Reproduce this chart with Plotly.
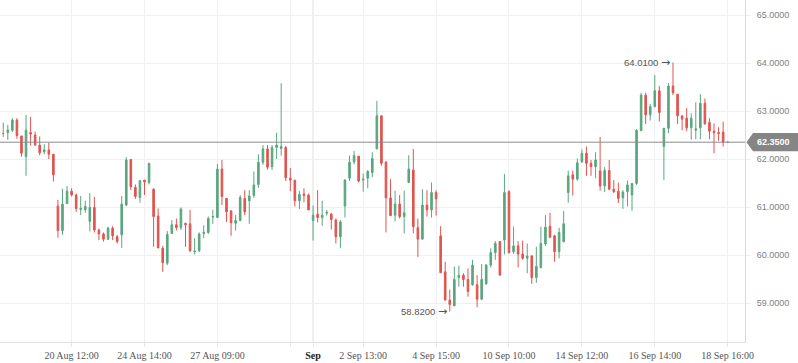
import plotly.graph_objects as go

# ---- data (index-based candles, weekend gaps removed) ----
opens = [62.88,62.53,62.55,62.60,62.81,62.48,62.05,62.55,62.50,62.29,62.15,62.19,62.10,61.02,60.51,61.07,61.33,61.25,60.95,60.94,
         60.70,60.99,60.52,60.44,60.33,60.56,60.38,60.42,61.04,61.99,61.41,61.20,61.56,61.51,61.37,60.81,60.14,59.83,60.45,60.63,
         60.57,60.66,60.65,60.07,60.09,60.45,60.47,60.79,60.78,61.79,61.18,60.92,60.66,60.72,61.18,61.13,61.24,61.47,61.93,62.21,
         61.84,62.24,62.22,62.24,61.60,61.56,61.13,61.27,61.25,60.72,60.85,60.78,60.87,60.85,60.73,60.38,61.02,61.60,61.94,62.06,
         61.56,61.60,61.72,62.21,62.90,61.94,61.19,60.83,61.06,60.80,61.51,61.77,60.57,60.33,61.04,60.94,61.30,60.40,59.65,59.06,
         58.94,59.53,59.58,59.49,59.38,59.38,59.08,59.40,59.79,60.05,60.28,60.31,61.32,60.07,60.19,60.02,59.93,59.98,59.53,59.74,
         60.23,60.60,60.40,60.07,60.28,61.30,61.67,61.58,61.94,62.12,61.91,61.84,61.75,61.44,61.76,61.37,61.33,61.19,61.32,61.25,
         61.49,62.59,63.33,62.92,63.09,63.42,62.26,62.64,63.52,63.35,62.90,62.85,62.65,62.60,62.65,63.16,62.76,62.58,62.55,62.56,
         62.35]
highs = [62.92,62.76,62.71,62.85,62.85,62.48,62.92,62.88,62.57,62.47,62.31,62.34,62.10,61.15,61.38,61.44,61.39,61.28,61.23,61.13,
         61.29,61.21,60.55,60.47,60.59,60.60,60.42,61.23,62.04,61.99,61.47,61.55,61.56,61.92,61.39,60.97,60.19,60.50,60.73,60.76,
         60.99,60.67,60.94,60.35,60.47,60.62,60.80,60.94,61.90,61.98,61.18,60.92,60.83,61.25,61.35,61.35,61.74,62.10,62.29,62.29,
         62.29,62.55,63.58,62.27,61.81,61.56,61.33,61.39,61.28,61.03,61.35,61.13,60.94,60.88,60.76,60.73,61.58,62.07,62.17,62.06,
         61.70,61.77,62.14,63.21,62.90,61.94,61.58,61.34,61.25,61.34,62.08,62.21,60.76,61.37,61.35,61.51,61.35,60.60,59.86,59.28,
         59.76,59.78,59.62,59.72,59.90,59.58,59.81,59.81,60.14,60.29,60.28,61.69,61.35,60.59,60.29,60.30,60.24,60.00,60.17,60.59,
         60.83,60.88,60.42,60.57,60.92,61.76,61.76,62.01,62.20,62.26,61.98,62.14,62.46,61.83,61.98,61.56,61.51,61.35,61.55,61.49,
         62.62,63.38,63.38,63.15,63.75,63.52,62.64,63.58,64.01,63.35,62.90,63.06,62.95,63.18,63.35,63.26,62.85,62.74,62.66,62.78,
         62.35]
lows = [62.50,62.46,62.40,62.56,62.42,62.05,61.65,62.28,62.28,62.08,62.10,62.00,61.53,60.36,60.42,61.07,61.22,60.90,60.83,60.88,
        60.49,60.47,60.31,60.28,60.31,60.31,60.24,60.15,61.02,61.35,61.17,61.09,61.25,61.47,60.17,60.14,59.65,59.79,60.44,60.51,
        60.52,60.17,60.06,60.01,60.06,60.35,60.44,60.65,60.78,61.04,60.69,60.40,60.51,60.70,60.83,60.65,61.19,61.40,61.88,61.78,
        61.77,62.00,62.07,61.54,61.33,61.01,60.96,61.10,60.94,60.30,60.68,60.61,60.82,60.53,60.24,60.14,60.78,61.54,61.89,61.51,
        61.32,61.39,61.62,62.21,61.86,60.47,60.82,60.70,60.76,60.45,61.51,60.45,59.96,60.33,60.80,60.78,60.82,59.63,59.06,58.82,
        58.94,59.34,59.34,59.13,59.36,58.91,59.06,59.38,59.74,59.90,59.58,60.01,60.03,60.02,59.74,59.90,59.62,59.40,59.42,59.72,
        60.19,60.35,59.86,59.93,60.26,61.09,61.24,61.55,61.92,61.65,61.65,61.60,61.34,61.31,61.35,61.29,61.08,60.96,61.01,60.92,
        61.46,62.59,62.73,62.80,63.09,62.78,61.56,62.54,63.33,62.73,62.60,62.58,62.40,62.41,62.41,62.72,62.41,62.12,62.38,62.26,
        62.35]
closes = [62.55,62.53,62.60,62.81,62.49,62.12,62.60,62.52,62.29,62.13,62.19,62.10,61.67,60.51,61.06,61.33,61.25,60.97,60.97,61.01,
          60.99,60.52,60.44,60.33,60.56,60.40,60.28,61.06,61.98,61.42,61.22,61.55,61.52,61.91,60.80,60.15,59.84,60.43,60.63,60.57,
          60.96,60.63,60.09,60.08,60.44,60.47,60.76,60.80,61.79,61.22,60.90,60.67,60.72,61.20,60.90,61.23,61.46,61.93,62.21,61.83,
          62.24,62.29,62.26,61.61,61.56,61.13,61.26,61.24,60.94,60.83,60.78,60.83,60.89,60.74,60.38,60.69,61.56,61.93,62.07,61.54,
          61.58,61.74,62.01,62.90,61.91,61.19,60.82,61.06,60.80,60.88,61.79,60.59,60.33,61.04,60.94,61.30,61.17,59.63,59.06,58.97,
          59.49,59.58,59.49,59.24,59.79,59.08,59.49,59.79,60.05,60.24,59.58,61.30,60.05,60.19,60.02,59.93,59.98,59.53,59.76,60.24,
          60.58,60.37,60.07,60.47,60.65,61.65,61.58,61.92,62.12,61.91,61.84,61.98,61.44,61.76,61.37,61.32,61.18,61.31,61.46,61.49,
          62.60,63.33,62.92,63.09,63.42,62.97,62.64,63.52,63.38,62.90,62.83,62.65,62.85,62.63,63.16,62.73,62.58,62.55,62.53,62.35,
          62.35]

tick_index = [16, 32, 48, 64, 69, 80, 96, 112, 128, 144, 160]
tick_labels = ["20 Aug 12:00", "24 Aug 14:00", "27 Aug 09:00", "",
               "<b><span style='color:#222'>Sep</span></b>",
               "2 Sep 13:00", "4 Sep 15:00", "10 Sep 10:00", "14 Sep 12:00",
               "16 Sep 14:00", "18 Sep 16:00"]
price_ticks = [59, 60, 61, 62, 63, 64, 65]
last_price = 62.35
high_mark = (148, 64.01)
low_mark = (99, 58.82)
sep_index = 69

GREEN = "#59a67f"
RED = "#e0544f"
GRAY = "#8a8a8a"

idx = list(range(len(opens)))
main = [i for i in idx if opens[i] != closes[i]]
doji = [i for i in idx if opens[i] == closes[i]]

fig = go.Figure()
fig.add_trace(go.Candlestick(
    x=main,
    open=[opens[i] for i in main], high=[highs[i] for i in main],
    low=[lows[i] for i in main], close=[closes[i] for i in main],
    increasing=dict(line=dict(color=GREEN, width=1), fillcolor=GREEN),
    decreasing=dict(line=dict(color=RED, width=1), fillcolor=RED),
    whiskerwidth=0, showlegend=False, hoverinfo="skip",
))
fig.add_trace(go.Candlestick(
    x=doji,
    open=[opens[i] for i in doji], high=[highs[i] for i in doji],
    low=[lows[i] for i in doji], close=[closes[i] for i in doji],
    increasing=dict(line=dict(color=GRAY, width=1), fillcolor=GRAY),
    decreasing=dict(line=dict(color=GRAY, width=1), fillcolor=GRAY),
    whiskerwidth=0, showlegend=False, hoverinfo="skip",
))

PW = 745.0
def px(p):
    return p / PW

shapes = [
    dict(type="line", xref="x", yref="paper", x0=sep_index, x1=sep_index, y0=0, y1=1,
         line=dict(color="#d9d9d9", width=1), layer="below"),
    dict(type="line", xref="paper", yref="y", x0=0, x1=1, y0=last_price, y1=last_price,
         line=dict(color="#8c8c8c", width=1)),
    dict(type="path", xref="paper", yref="y",
         path=(f"M {px(746.5)},{last_price} L {px(753)},{last_price+0.19} "
               f"L {px(800)},{last_price+0.19} L {px(800)},{last_price-0.19} "
               f"L {px(753)},{last_price-0.19} Z"),
         fillcolor="#858585", line=dict(width=0)),
]

ARROW = " <span style='font-family:DejaVu Sans;font-size:11px'>→</span>"

annotations = [
    dict(x=px(773.5), xref="paper", y=last_price, yref="y", text=f"<b>{last_price:.4f}</b>",
         showarrow=False, font=dict(family="Liberation Sans", size=9, color="white"),
         xanchor="center", yanchor="middle"),
    dict(x=high_mark[0], y=high_mark[1], xref="x", yref="y", text=f"{high_mark[1]:.4f}" + ARROW,
         showarrow=False, xanchor="right", yanchor="middle", xshift=-1,
         font=dict(family="Liberation Sans", size=9.5, color="#555")),
    dict(x=low_mark[0], y=low_mark[1], xref="x", yref="y", text=f"{low_mark[1]:.4f}" + ARROW,
         showarrow=False, xanchor="right", yanchor="middle", xshift=-1,
         font=dict(family="Liberation Sans", size=9.5, color="#555")),
]

fig.update_layout(
    width=798, height=363,
    margin=dict(l=0, r=53, t=0, b=21),
    paper_bgcolor="white", plot_bgcolor="white",
    boxgap=0.5,
    shapes=shapes, annotations=annotations,
    xaxis=dict(
        type="linear", range=[0.285, 163.8], rangeslider=dict(visible=False),
        tickmode="array", tickvals=tick_index, ticktext=tick_labels,
        showgrid=True, gridcolor="#eef0f3", gridwidth=1, zeroline=False,
        showline=True, linecolor="#e2e2e2", linewidth=1,
        ticks="outside", ticklen=4, tickcolor="#e6e6e6",
        tickfont=dict(family="Liberation Serif", size=10, color="#555"),
    ),
    yaxis=dict(
        side="right", range=[58.1875, 65.3125],
        tickmode="array", tickvals=price_ticks, tickformat=".4f",
        showgrid=True, gridcolor="#eef0f3", gridwidth=1, zeroline=False,
        showline=True, linecolor="#d8d8d8", linewidth=1,
        ticks="outside", ticklen=5, tickcolor="#eef0f3",
        ticklabelstandoff=4,
        tickfont=dict(family="Liberation Sans", size=9, color="#808080"),
    ),
)

fig.write_html("out.html")
